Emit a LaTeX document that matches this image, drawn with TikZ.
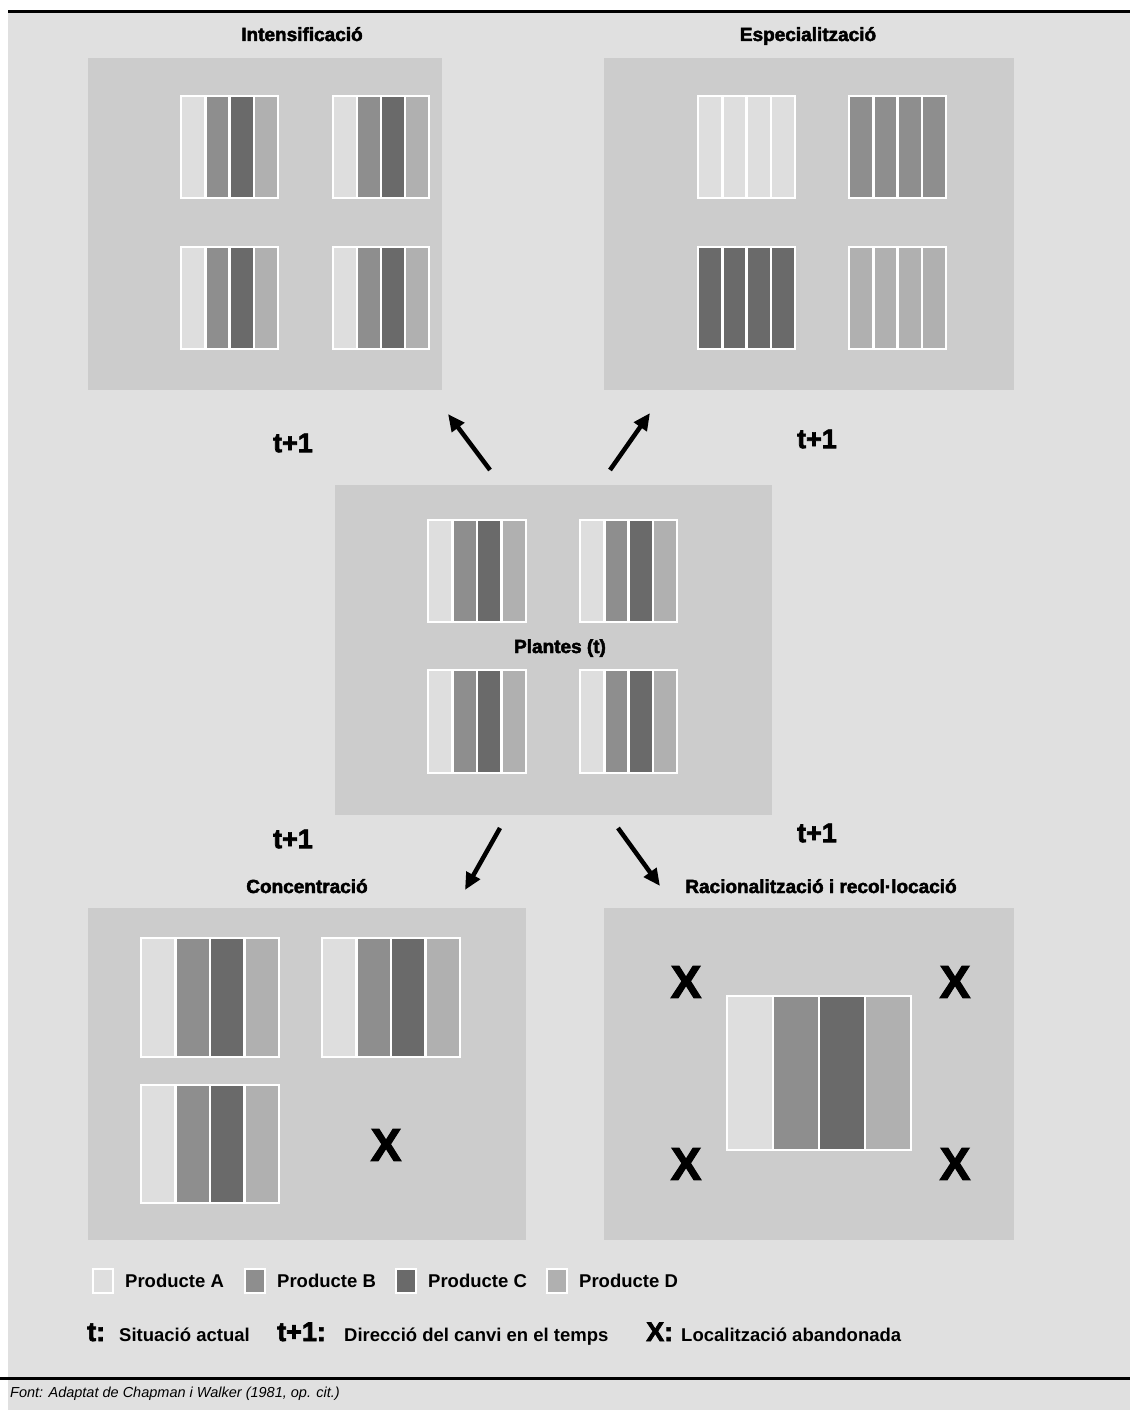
\documentclass[tikz,border=0pt]{standalone}
\usepackage{fontspec}
\setmainfont{Liberation Sans}
\newfontfamily\heavy{Liberation Sans Bold}[FakeBold=2.5]
\usetikzlibrary{arrows.meta,positioning}

\definecolor{fons}{HTML}{E0E0E0}
\definecolor{quadre}{HTML}{CCCCCC}
\definecolor{prodA}{HTML}{DEDEDE}
\definecolor{prodB}{HTML}{8E8E8E}
\definecolor{prodC}{HTML}{6A6A6A}
\definecolor{prodD}{HTML}{B0B0B0}

\tikzset{
  panel/.style={fill=quadre, inner sep=0pt},
  titol/.style={anchor=base, font=\heavy\fontsize{19}{21}\selectfont},
  temps/.style={font=\heavy\fontsize{27}{29}\selectfont},
  creu/.style={font=\heavy\fontsize{46}{48}\selectfont},
  fletxa/.style={line width=4.5pt, -{Triangle[length=17pt,width=15pt]}},
  llegenda/.style={draw=white, line width=2pt, minimum width=20pt, minimum height=24pt, inner sep=0pt},
  text llegenda/.style={anchor=west, inner sep=0pt, font=\bfseries\fontsize{18.5}{20}\selectfont}
}

% planta: x0 y0 x1 y1 and four colours
\newcommand{\planta}[8]{%
  \foreach \col [count=\i from 0] in {#5,#6,#7,#8}
    \fill[\col, draw=white, line width=2.5pt] ({#1+\i*(#3-#1)/4},#2) rectangle ({#1+(\i+1)*(#3-#1)/4},#4);
}

\begin{document}
\begin{tikzpicture}[x=1pt, y=-1pt]
\useasboundingbox (0,0) rectangle (1130,1410);
\fill[fons] (8,12) rectangle (1130,1410);
\draw[line width=3pt] (8,12) -- (1130,12);
\draw[line width=3pt] (0,1378) -- (1130,1378);

% panels
\node[panel, minimum width=354pt, minimum height=332pt] (a) at (265,224) {};
\node[panel, minimum width=410pt, minimum height=332pt] (b) at (809,224) {};
\node[panel, minimum width=437pt, minimum height=330pt] (c) at (553.5,650) {};
\node[panel, minimum width=438pt, minimum height=332pt] (d) at (307,1074) {};
\node[panel, minimum width=410pt, minimum height=332pt] (e) at (809,1074) {};

\node[titol] (ta) at (302,41) {Intensificació};
\node[titol] (tb) at (808,41) {Especialització};
\node[titol] (tc) at (560,653) {Plantes (t)};
\node[titol] (td) at (307,893) {Concentració};
\node[titol] (te) at (821,893) {Racionalització i recol·locació};

% plants
\planta{181}{96}{278}{198}{prodA}{prodB}{prodC}{prodD}
\planta{333}{96}{429}{198}{prodA}{prodB}{prodC}{prodD}
\planta{181}{247}{278}{349}{prodA}{prodB}{prodC}{prodD}
\planta{333}{247}{429}{349}{prodA}{prodB}{prodC}{prodD}

\planta{698}{96}{795}{198}{prodA}{prodA}{prodA}{prodA}
\planta{849}{96}{946}{198}{prodB}{prodB}{prodB}{prodB}
\planta{698}{247}{795}{349}{prodC}{prodC}{prodC}{prodC}
\planta{849}{247}{946}{349}{prodD}{prodD}{prodD}{prodD}

\planta{428}{520}{526}{622}{prodA}{prodB}{prodC}{prodD}
\planta{580}{520}{677}{622}{prodA}{prodB}{prodC}{prodD}
\planta{428}{670}{526}{773}{prodA}{prodB}{prodC}{prodD}
\planta{580}{670}{677}{773}{prodA}{prodB}{prodC}{prodD}

\planta{141}{938}{279}{1057}{prodA}{prodB}{prodC}{prodD}
\planta{322}{938}{460}{1057}{prodA}{prodB}{prodC}{prodD}
\planta{141}{1085}{279}{1203}{prodA}{prodB}{prodC}{prodD}

\planta{727}{996}{911}{1150}{prodA}{prodB}{prodC}{prodD}

% abandoned places
\node[creu] (x1) at (386,1145) {X};
\node[creu] (x2) at (686,982) {X};
\node[creu] (x3) at (955,982) {X};
\node[creu] (x4) at (686,1164) {X};
\node[creu] (x5) at (955,1164) {X};

% time labels
\node[temps] (t1) at (293,443) {t+1};
\node[temps] (t2) at (817,439) {t+1};
\node[temps] (t3) at (293,839) {t+1};
\node[temps] (t4) at (817,833) {t+1};

% arrows
\coordinate (f1) at (490,470);
\coordinate (f1p) at (448,414);
\coordinate (f2) at (610,470);
\coordinate (f2p) at (650,413);
\coordinate (f3) at (500,828);
\coordinate (f3p) at (465,890);
\coordinate (f4) at (618,828);
\coordinate (f4p) at (660,886);
\draw[fletxa] (f1) -- (f1p);
\draw[fletxa] (f2) -- (f2p);
\draw[fletxa] (f3) -- (f3p);
\draw[fletxa] (f4) -- (f4p);

% legend
\node[llegenda, fill=prodA] (qa) at (103,1281) {};
\node[llegenda, fill=prodB] (qb) at (255,1281) {};
\node[llegenda, fill=prodC] (qc) at (406,1281) {};
\node[llegenda, fill=prodD] (qd) at (557,1281) {};
\node[text llegenda, right=11pt of qa] (la) {Producte A};
\node[text llegenda, right=11pt of qb] (lb) {Producte B};
\node[text llegenda, right=11pt of qc] (lc) {Producte C};
\node[text llegenda, right=11pt of qd] (ld) {Producte D};

\node[temps, anchor=base west, inner sep=0pt] (k1) at (87,1341) {t:};
\node[text llegenda, anchor=base west] (s1) at (119,1341) {Situació actual};
\node[temps, anchor=base west, inner sep=0pt] (k2) at (277,1341) {t+1:};
\node[text llegenda, anchor=base west] (s2) at (344,1341) {Direcció del canvi en el temps};
\node[temps, anchor=base west, inner sep=0pt] (k3) at (646,1341) {X:};
\node[text llegenda, anchor=base west] (s3) at (681,1341) {Localització abandonada};

\node[anchor=west, inner sep=0pt, font=\itshape\fontsize{14.5}{16}\selectfont] (font) at (10,1394) {Font: Adaptat de Chapman i Walker (1981, op. cit.)};
\end{tikzpicture}
\end{document}
